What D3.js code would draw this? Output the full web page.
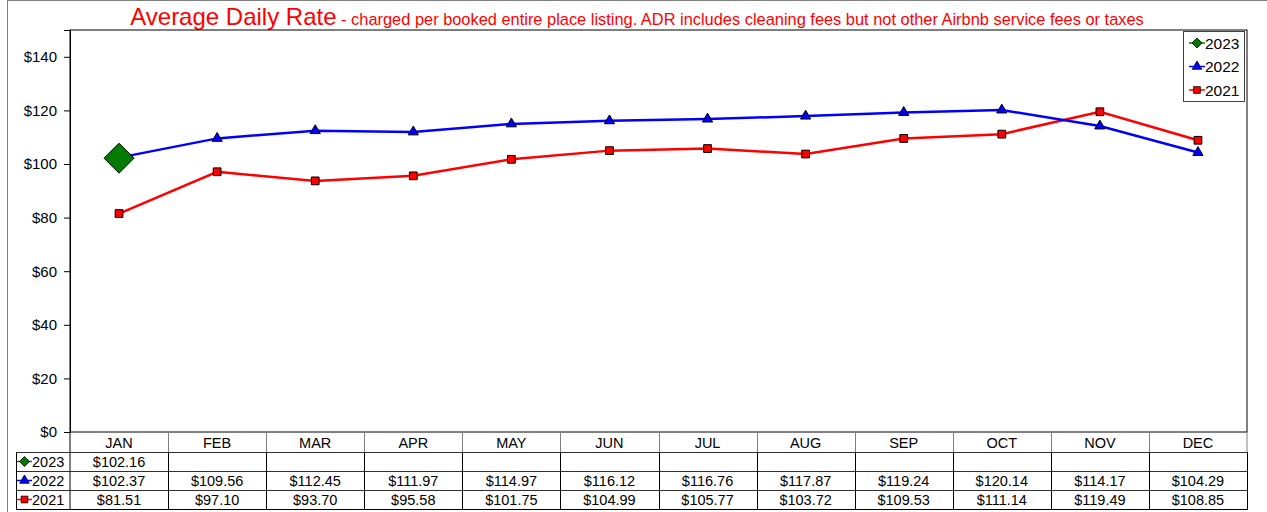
<!DOCTYPE html>
<html><head><meta charset="utf-8">
<script src="https://cdn.jsdelivr.net/npm/d3@7"></script>
<style>body{margin:0;background:#fff}svg{display:block;font-family:"Liberation Sans",Arial,sans-serif}</style>
</head><body>
<svg id="c" width="1267" height="512"></svg>
<script>
const months = ["JAN","FEB","MAR","APR","MAY","JUN","JUL","AUG","SEP","OCT","NOV","DEC"];
const v2023 = [102.16];
const v2022 = [102.37,109.56,112.45,111.97,114.97,116.12,116.76,117.87,119.24,120.14,114.17,104.29];
const v2021 = [81.51,97.10,93.70,95.58,101.75,104.99,105.77,103.72,109.53,111.14,119.49,108.85];
const yTicks = [0,20,40,60,80,100,120,140];
const seriesNames = ["2023","2022","2021"];

const diamond = {draw(ctx,size){const r=Math.sqrt(size/2);ctx.moveTo(0,-r);ctx.lineTo(r,0);ctx.lineTo(0,r);ctx.lineTo(-r,0);ctx.closePath();}};

const series = [
  {name:seriesNames[0], values:v2023, color:"#007A00", sym:diamond, size:450},
  {name:seriesNames[1], values:v2022, color:"#0000FF", sym:d3.symbolTriangle, size:45},
  {name:seriesNames[2], values:v2021, color:"#FF0000", sym:d3.symbolSquare, size:60}
];

const svg = d3.select("#c");
const L=70, R=1247, T=30, B=432;
const x = d3.scaleBand().domain(months).range([L,R]);
const y = d3.scaleLinear().domain([0,150]).range([B,T]);

// outer frame (right and bottom edges fall outside the picture)
svg.append("rect").attr("x",7.5).attr("y",0.5).attr("width",1270).attr("height",520)
  .attr("fill","none").attr("stroke","#808080");

// title
const title = svg.append("text").attr("x",637).attr("y",25).attr("text-anchor","middle").attr("fill","#FF0000");
title.append("tspan").attr("font-size",24).text("Average Daily Rate");
title.append("tspan").attr("font-size",16.4).text(" - charged per booked entire place listing. ADR includes cleaning fees but not other Airbnb service fees or taxes");

// plot area
svg.append("rect").attr("x",L).attr("y",T).attr("width",R-L).attr("height",B-T).attr("fill","#fff").attr("stroke","#000");

// y axis
const ya = svg.append("g").attr("transform",`translate(${L},0)`)
  .call(d3.axisLeft(y).tickValues(yTicks).tickSize(6).tickPadding(7).tickFormat(d=>"$"+d));
ya.select(".domain").attr("stroke","#000");
ya.selectAll("text").attr("font-size",15).attr("fill","#000").attr("font-family","Liberation Sans, Arial, sans-serif");

// lines
const line = d3.line().x((d,i)=>x(months[i])+x.bandwidth()/2).y(d=>y(d));
[series[2],series[1]].forEach(s=>{
  svg.append("path").datum(s.values).attr("d",line).attr("fill","none").attr("stroke",s.color).attr("stroke-width",2.5);
});
// markers
[series[2],series[1],series[0]].forEach(s=>{
  svg.append("g").selectAll("path").data(s.values).join("path")
    .attr("d",d3.symbol().type(s.sym).size(s.size))
    .attr("transform",(d,i)=>`translate(${x(months[i])+x.bandwidth()/2},${y(d)})`)
    .attr("fill",s.color).attr("stroke","#000").attr("stroke-width",1);
});

// legend
const lg = svg.append("g");
lg.append("rect").attr("x",1183.5).attr("y",31.5).attr("width",61).attr("height",70).attr("fill","#fff").attr("stroke","#404040");
const legSizes=[50,40,45];
series.forEach((s,i)=>{
  const cy = 43 + i*23.5;
  lg.append("line").attr("x1",1189).attr("x2",1205).attr("y1",cy).attr("y2",cy).attr("stroke",s.color).attr("stroke-width",1.5);
  lg.append("path").attr("d",d3.symbol().type(s.sym).size(legSizes[i])).attr("transform",`translate(1197,${cy})`)
    .attr("fill",s.color).attr("stroke","#000").attr("stroke-width",0.8);
  lg.append("text").attr("x",1205).attr("y",cy+5.5).attr("font-size",15.5).attr("fill","#000").text(s.name);
});

// data table
const rowTops = [432,452,471,490,509];
const tb = svg.append("g");
months.forEach(m=>{
  tb.append("text").attr("x",x(m)+x.bandwidth()/2).attr("y",447.5).attr("text-anchor","middle")
    .attr("font-size",14.5).attr("fill","#000").text(m);
});
months.slice(1).forEach(m=>{
  tb.append("line").attr("x1",Math.round(x(m))+0.5).attr("x2",Math.round(x(m))+0.5).attr("y1",432).attr("y2",452).attr("stroke","#808080");
});
tb.append("line").attr("x1",L).attr("x2",L).attr("y1",432).attr("y2",509).attr("stroke","#000");
tb.append("line").attr("x1",R).attr("x2",R).attr("y1",432).attr("y2",452).attr("stroke","#808080");
series.forEach((s,r)=>{
  const top = rowTops[r+1], bot = rowTops[r+2];
  tb.append("line").attr("x1",16).attr("x2",R).attr("y1",top+0.5).attr("y2",top+0.5).attr("stroke","#303030");
  months.forEach((m,i)=>{
    const v = s.values[i];
    if(v!==undefined){
      tb.append("text").attr("x",x(m)+x.bandwidth()/2).attr("y",bot-4).attr("text-anchor","middle")
        .attr("font-size",14.5).attr("fill","#000").text("$"+v.toFixed(2));
    }
  });
  const cy = (top+bot)/2;
  tb.append("line").attr("x1",17).attr("x2",32).attr("y1",cy).attr("y2",cy).attr("stroke",s.color).attr("stroke-width",1.5);
  tb.append("path").attr("d",d3.symbol().type(s.sym).size(legSizes[r])).attr("transform",`translate(24.5,${cy})`)
    .attr("fill",s.color).attr("stroke","#000").attr("stroke-width",0.8);
  tb.append("text").attr("x",32).attr("y",bot-4).attr("font-size",14.5).attr("fill","#000").text(s.name);
});
tb.append("line").attr("x1",16).attr("x2",R).attr("y1",509.5).attr("y2",509.5).attr("stroke","#000");
tb.append("line").attr("x1",16.5).attr("x2",16.5).attr("y1",452).attr("y2",510).attr("stroke","#000");
months.forEach(m=>{
  tb.append("line").attr("x1",Math.round(x(m)+x.bandwidth())+0.5).attr("x2",Math.round(x(m)+x.bandwidth())+0.5)
    .attr("y1",452).attr("y2",510).attr("stroke","#000");
});
</script>
</body></html>
